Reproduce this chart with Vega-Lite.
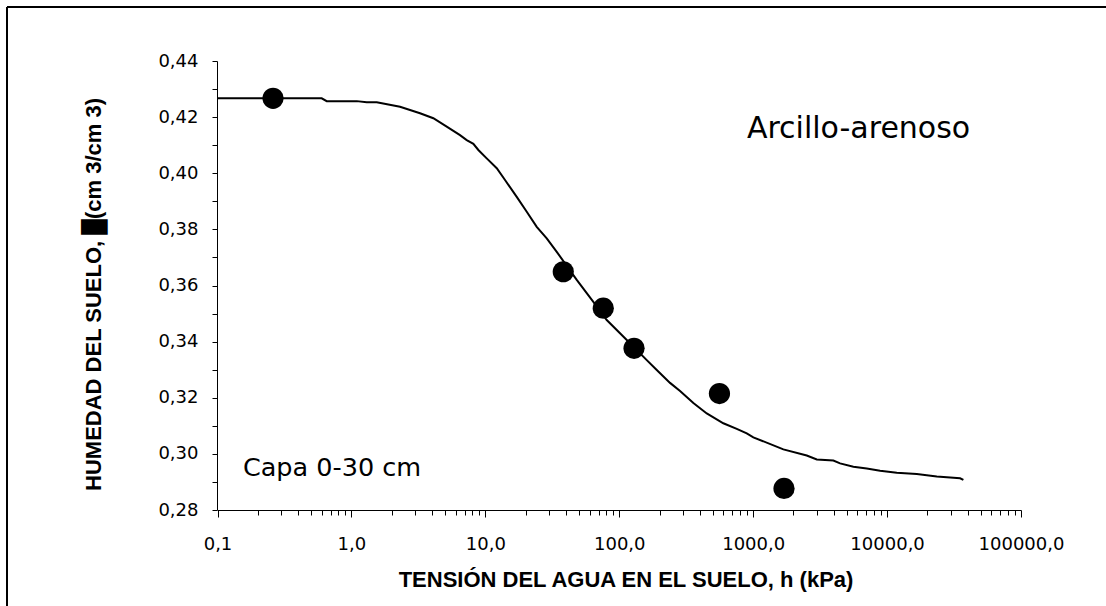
{
  "$schema": "https://vega.github.io/schema/vega-lite/v6.json",
  "width": 1100,
  "height": 600,
  "autosize": {"type": "none"},
  "padding": {"left": 6, "top": 6, "right": 0, "bottom": 0},
  "background": "white",
  "config": {
    "view": {"stroke": null},
    "font": "Liberation Sans",
    "axis": {"grid": false, "domainColor": "black", "tickColor": "black", "labelColor": "black", "titleColor": "black"}
  },
  "datasets": {
    "curve": [
      {"h": 0.1, "theta": 0.4267}, {"h": 0.6, "theta": 0.4267}, {"h": 0.654, "theta": 0.4257},
      {"h": 1.096, "theta": 0.4257}, {"h": 1.301, "theta": 0.4253}, {"h": 1.545, "theta": 0.4253},
      {"h": 2.307, "theta": 0.4237}, {"h": 3.253, "theta": 0.4214}, {"h": 4.09, "theta": 0.4196},
      {"h": 5.148, "theta": 0.4166}, {"h": 6.47, "theta": 0.4136}, {"h": 7.26, "theta": 0.4118},
      {"h": 8.14, "theta": 0.4105}, {"h": 8.87, "theta": 0.4083}, {"h": 10.24, "theta": 0.4053},
      {"h": 12.17, "theta": 0.4018}, {"h": 14.03, "theta": 0.3976}, {"h": 17.16, "theta": 0.3916},
      {"h": 20.38, "theta": 0.3863}, {"h": 24.2, "theta": 0.3809}, {"h": 28.74, "theta": 0.3768},
      {"h": 34.14, "theta": 0.372}, {"h": 48.15, "theta": 0.362}, {"h": 64.06, "theta": 0.3542},
      {"h": 80.65, "theta": 0.3477}, {"h": 113.8, "theta": 0.3406}, {"h": 160.5, "theta": 0.3334},
      {"h": 190.6, "theta": 0.3299}, {"h": 239.5, "theta": 0.3253}, {"h": 284.5, "theta": 0.3224},
      {"h": 310, "theta": 0.3208}, {"h": 357.6, "theta": 0.3181}, {"h": 450.3, "theta": 0.3144},
      {"h": 598.8, "theta": 0.3109}, {"h": 754.3, "theta": 0.3089}, {"h": 895.6, "theta": 0.3073},
      {"h": 1003, "theta": 0.3059}, {"h": 1681, "theta": 0.3016}, {"h": 2513, "theta": 0.2994},
      {"h": 2985, "theta": 0.298}, {"h": 3972, "theta": 0.2976}, {"h": 4456, "theta": 0.2966},
      {"h": 5602, "theta": 0.2954}, {"h": 7053, "theta": 0.2948}, {"h": 8866, "theta": 0.294},
      {"h": 11815, "theta": 0.2933}, {"h": 16667, "theta": 0.2928}, {"h": 23510, "theta": 0.2919},
      {"h": 35100, "theta": 0.2913}, {"h": 37140, "theta": 0.2907}
    ],
    "obs": [
      {"h": 0.26, "theta": 0.4267},
      {"h": 38.2, "theta": 0.3649},
      {"h": 76, "theta": 0.3519},
      {"h": 129, "theta": 0.3376},
      {"h": 560, "theta": 0.3215},
      {"h": 1700, "theta": 0.2877}
    ],
    "label1": [{"h": 6124, "theta": 0.4125, "text": "Arcillo-arenoso"}],
    "label2": [{"h": 0.716, "theta": 0.2922, "text": "Capa 0-30 cm"}],
    "frame": [{"a": 0}, {"a": 1}]
  },
  "layer": [
    {
      "encoding": {
        "x": {
          "field": "h", "type": "quantitative",
          "scale": {"type": "log", "domain": [0.1, 100000], "range": [211.5, 1015], "nice": false},
          "axis": {
            "orient": "bottom",
            "offset": -96,
            "values": [0.1,0.2,0.3,0.4,0.5,0.6,0.7,0.8,0.9,1,2,3,4,5,6,7,8,9,10,20,30,40,50,60,70,80,90,100,200,300,400,500,600,700,800,900,1000,2000,3000,4000,5000,6000,7000,8000,9000,10000,20000,30000,40000,50000,60000,70000,80000,90000,100000],
            "labelExpr": "datum.value == 0.1 ? '0,1' : (indexof([1,10,100,1000,10000,100000], datum.value) >= 0 ? format(datum.value, 'd') + ',0' : '')",
            "tickSize": {"condition": {"test": "indexof([0.1,1,10,100,1000,10000,100000], datum.value) >= 0", "value": 7}, "value": 5},
            "labelPadding": 18,
            "labelFont": "DejaVu Sans",
            "labelFontSize": 18,
            "labelOverlap": false,
            "labelFlush": false,
            "labelBound": false,
            "domainWidth": 1,
            "tickWidth": 1,
            "title": "TENSIÓN DEL AGUA EN EL SUELO, h (kPa)",
            "titleFont": "Liberation Sans",
            "titleFontWeight": "bold",
            "titleFontSize": 22,
            "titleX": 619.5,
            "titleY": 76.7,
            "titleAlign": "center",
            "titleBaseline": "alphabetic",
            "titleAnchor": null
          }
        },
        "y": {
          "field": "theta", "type": "quantitative",
          "scale": {"domain": [0.28, 0.44], "range": [504, 55], "nice": false, "zero": false},
          "axis": {
            "orient": "left",
            "offset": -211,
            "values": [0.28,0.29,0.30,0.31,0.32,0.33,0.34,0.35,0.36,0.37,0.38,0.39,0.40,0.41,0.42,0.43,0.44],
            "labelExpr": "round(datum.value * 100) % 2 == 0 ? replace(format(datum.value, '.2f'), '.', ',') : ''",
            "tickSize": 5,
            "labelPadding": 14,
            "labelFont": "DejaVu Sans",
            "labelFontSize": 18,
            "labelOverlap": false,
            "labelFlush": false,
            "labelBound": false,
            "domainWidth": 1,
            "tickWidth": 1,
            "title": "HUMEDAD DEL SUELO, █(cm 3/cm 3)",
            "titleFont": "Liberation Sans",
            "titleFontWeight": "bold",
            "titleFontSize": 22,
            "titleAngle": -90,
            "titleX": -117,
            "titleY": 288,
            "titleAlign": "center",
            "titleBaseline": "alphabetic",
            "titleAnchor": null
          }
        }
      },
      "layer": [
        {"data": {"name": "curve"}, "mark": {"type": "line", "color": "black", "strokeWidth": 2}},
        {"data": {"name": "obs"}, "mark": {"type": "circle", "color": "black", "opacity": 1, "size": 450}},
        {"data": {"name": "label1"}, "mark": {"type": "text", "fontSize": 30, "font": "DejaVu Sans", "align": "center", "baseline": "alphabetic", "color": "black"}, "encoding": {"text": {"field": "text"}}},
        {"data": {"name": "label2"}, "mark": {"type": "text", "fontSize": 25.5, "font": "DejaVu Sans", "align": "center", "baseline": "alphabetic", "color": "black"}, "encoding": {"text": {"field": "text"}}}
      ]
    },
    {
      "data": {"name": "frame"},
      "mark": {"type": "point", "opacity": 0},
      "encoding": {
        "x": {"field": "a", "type": "quantitative", "scale": {"domain": [0, 1], "nice": false}, "axis": {"orient": "top", "labels": false, "ticks": false, "title": null, "domainColor": "black", "domainWidth": 2, "translate": 1}},
        "y": {"field": "a", "type": "quantitative", "scale": {"domain": [0, 1], "nice": false}, "axis": {"orient": "left", "labels": false, "ticks": false, "title": null, "domainColor": "black", "domainWidth": 2, "translate": 1}}
      }
    }
  ],
  "resolve": {"scale": {"x": "independent", "y": "independent"}, "axis": {"x": "independent", "y": "independent"}}
}
